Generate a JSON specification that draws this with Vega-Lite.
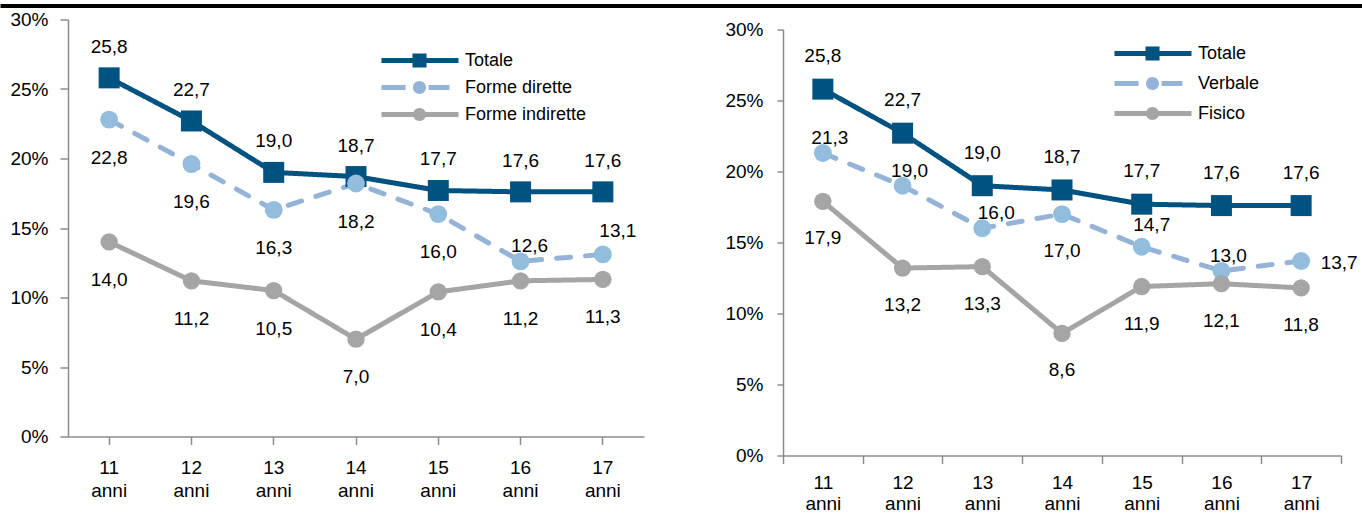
{
  "$schema": "https://vega.github.io/schema/vega-lite/v6.json",
  "padding": {"left": 0, "top": 3.5, "right": 0, "bottom": 0},
  "datasets": {
    "left": [
      {"serie": "Totale", "eta": "11", "valore": 25.8},
      {"serie": "Totale", "eta": "12", "valore": 22.7},
      {"serie": "Totale", "eta": "13", "valore": 19.0},
      {"serie": "Totale", "eta": "14", "valore": 18.7},
      {"serie": "Totale", "eta": "15", "valore": 17.7},
      {"serie": "Totale", "eta": "16", "valore": 17.6},
      {"serie": "Totale", "eta": "17", "valore": 17.6},
      {"serie": "Forme dirette", "eta": "11", "valore": 22.8},
      {"serie": "Forme dirette", "eta": "12", "valore": 19.6},
      {"serie": "Forme dirette", "eta": "13", "valore": 16.3},
      {"serie": "Forme dirette", "eta": "14", "valore": 18.2},
      {"serie": "Forme dirette", "eta": "15", "valore": 16.0},
      {"serie": "Forme dirette", "eta": "16", "valore": 12.6},
      {"serie": "Forme dirette", "eta": "17", "valore": 13.1},
      {"serie": "Forme indirette", "eta": "11", "valore": 14.0},
      {"serie": "Forme indirette", "eta": "12", "valore": 11.2},
      {"serie": "Forme indirette", "eta": "13", "valore": 10.5},
      {"serie": "Forme indirette", "eta": "14", "valore": 7.0},
      {"serie": "Forme indirette", "eta": "15", "valore": 10.4},
      {"serie": "Forme indirette", "eta": "16", "valore": 11.2},
      {"serie": "Forme indirette", "eta": "17", "valore": 11.3}
    ],
    "right": [
      {"serie": "Totale", "eta": "11", "valore": 25.8},
      {"serie": "Totale", "eta": "12", "valore": 22.7},
      {"serie": "Totale", "eta": "13", "valore": 19.0},
      {"serie": "Totale", "eta": "14", "valore": 18.7},
      {"serie": "Totale", "eta": "15", "valore": 17.7},
      {"serie": "Totale", "eta": "16", "valore": 17.6},
      {"serie": "Totale", "eta": "17", "valore": 17.6},
      {"serie": "Verbale", "eta": "11", "valore": 21.3},
      {"serie": "Verbale", "eta": "12", "valore": 19.0},
      {"serie": "Verbale", "eta": "13", "valore": 16.0},
      {"serie": "Verbale", "eta": "14", "valore": 17.0},
      {"serie": "Verbale", "eta": "15", "valore": 14.7},
      {"serie": "Verbale", "eta": "16", "valore": 13.0},
      {"serie": "Verbale", "eta": "17", "valore": 13.7},
      {"serie": "Fisico", "eta": "11", "valore": 17.9},
      {"serie": "Fisico", "eta": "12", "valore": 13.2},
      {"serie": "Fisico", "eta": "13", "valore": 13.3},
      {"serie": "Fisico", "eta": "14", "valore": 8.6},
      {"serie": "Fisico", "eta": "15", "valore": 11.9},
      {"serie": "Fisico", "eta": "16", "valore": 12.1},
      {"serie": "Fisico", "eta": "17", "valore": 11.8}
    ]
  },
  "concat": [
    {
      "width": 1362,
      "height": 1,
      "data": {"values": []},
      "mark": {"type": "text"},
      "encoding": {},
      "view": {"stroke": "#000000", "strokeWidth": 3}
    },
    {
      "concat": [
        {
          "width": 1,
          "height": 1,
          "data": {"values": []},
          "mark": {"type": "text"},
          "encoding": {}
        },
        {
          "concat": [
            {
              "width": 576,
              "height": 417,
              "data": {"name": "left"},
              "encoding": {
                "x": {"field": "eta", "type": "nominal", "title": null,
                  "scale": {"type": "band", "paddingInner": 0, "paddingOuter": 0},
                  "axis": {"labelAngle": 0, "labelExpr": "datum.label ? [datum.label, 'anni'] : ''", "tickSize": 8, "labelPadding": 14, "labelLineHeight": 23, "tickBand": "center"}},
                "y": {"field": "valore", "type": "quantitative", "title": null,
                  "scale": {"domain": [0, 30], "nice": false},
                  "axis": {"values": [0, 5, 10, 15, 20, 25, 30], "labelExpr": "datum.value + '%'", "tickSize": 8, "labelPadding": 12, "minExtent": 65, "maxExtent": 65}}
              },
              "layer": [
                {
                  "mark": {"type": "line", "strokeWidth": 5, "strokeCap": "round", "strokeJoin": "round"},
                  "encoding": {
                    "color": {"field": "serie", "type": "nominal",
                      "scale": {"domain": ["Totale", "Forme dirette", "Forme indirette"], "range": ["#005280", "#95b3d7", "#a5a5a5"]},
                      "legend": {"title": null, "orient": "none", "legendX": 375, "legendY": 32, "symbolSize": 169, "symbolStrokeWidth": 0, "labelOffset": 4, "rowPadding": 9,
                        "encode": {"symbols": {"update": {"fill": {"signal": "datum.value === 'Totale' ? '#005280' : datum.value === 'Forme dirette' ? '#93b9da' : '#a5a5a5'"}, "fillOpacity": {"value": 1}, "strokeWidth": {"value": 0}}}}}},
                    "strokeDash": {"field": "serie", "type": "nominal",
                      "scale": {"domain": ["Totale", "Forme dirette", "Forme indirette"], "range": [[1, 0], [14, 15], [1, 0]]},
                      "legend": null}
                  }
                },
                {
                  "transform": [{"filter": "false"}],
                  "mark": {"type": "point", "filled": true, "size": 169, "opacity": 1},
                  "encoding": {
                    "color": {"field": "serie", "type": "nominal"},
                    "shape": {"field": "serie", "type": "nominal",
                      "scale": {"domain": ["Totale", "Forme dirette", "Forme indirette"], "range": [
                        "M-10.85,-0.38H1V0.38H-10.85Z M-6.08,-1.08H-3.92V1.08H-6.08Z",
                        "M-10.85,-0.38H-7.15V0.38H-10.85Z M-3.6,-0.38H-0.4V0.38H-3.6Z M-4,0A1,1 0 1,1 -6,0A1,1 0 1,1 -4,0Z",
                        "M-10.85,-0.38H1V0.38H-10.85Z M-4,0A1,1 0 1,1 -6,0A1,1 0 1,1 -4,0Z"]},
                      "legend": {"title": null, "orient": "none", "legendX": 375, "legendY": 32, "symbolSize": 169, "symbolStrokeWidth": 0, "labelOffset": 4, "rowPadding": 9,
                        "encode": {"symbols": {"update": {"fill": {"signal": "datum.value === 'Totale' ? '#005280' : datum.value === 'Forme dirette' ? '#93b9da' : '#a5a5a5'"}, "fillOpacity": {"value": 1}, "strokeWidth": {"value": 0}}}}}}
                  }
                },
                {
                  "transform": [{"filter": "datum.serie === 'Totale'"}],
                  "mark": {"type": "point", "filled": true, "opacity": 1, "shape": "square", "size": 441, "color": "#005280"}
                },
                {
                  "transform": [{"filter": "datum.serie === 'Forme dirette'"}],
                  "mark": {"type": "point", "filled": true, "opacity": 1, "shape": "circle", "size": 320, "color": "#92bddd"}
                },
                {
                  "transform": [{"filter": "datum.serie === 'Forme indirette'"}],
                  "mark": {"type": "point", "filled": true, "opacity": 1, "shape": "circle", "size": 300, "color": "#a5a5a5"}
                },
                {
                  "transform": [{"filter": "datum.serie === 'Totale'"}],
                  "mark": {"type": "text", "fontSize": 19, "dy": -31, "color": "#000000"},
                  "encoding": {"text": {"field": "valore", "type": "quantitative", "format": ".1f"}}
                },
                {
                  "transform": [{"filter": "datum.serie !== 'Totale' && !(datum.serie === 'Forme dirette' && (datum.eta === '16' || datum.eta === '17'))"}],
                  "mark": {"type": "text", "fontSize": 19, "dy": 38, "color": "#000000"},
                  "encoding": {"text": {"field": "valore", "type": "quantitative", "format": ".1f"}}
                },
                {
                  "transform": [{"filter": "datum.serie === 'Forme dirette' && datum.eta === '16'"}],
                  "mark": {"type": "text", "fontSize": 19, "dx": 9, "dy": -15, "color": "#000000"},
                  "encoding": {"text": {"field": "valore", "type": "quantitative", "format": ".1f"}}
                },
                {
                  "transform": [{"filter": "datum.serie === 'Forme dirette' && datum.eta === '17'"}],
                  "mark": {"type": "text", "fontSize": 19, "dx": 15, "dy": -23, "color": "#000000"},
                  "encoding": {"text": {"field": "valore", "type": "quantitative", "format": ".1f"}}
                }
              ]
            },
            {
              "concat": [
                {
                  "width": 1,
                  "height": 1,
                  "data": {"values": []},
                  "mark": {"type": "text"},
                  "encoding": {}
                },
                {
                  "width": 558,
                  "height": 426,
                  "data": {"name": "right"},
                  "encoding": {
                    "x": {"field": "eta", "type": "nominal", "title": null,
                      "scale": {"type": "band", "paddingInner": 0, "paddingOuter": 0},
                      "axis": {"labelAngle": 0, "labelExpr": "datum.label ? [datum.label, 'anni'] : ''", "tickSize": 8, "labelPadding": 10, "labelLineHeight": 21, "tickBand": "extent"}},
                    "y": {"field": "valore", "type": "quantitative", "title": null,
                      "scale": {"domain": [0, 30], "nice": false},
                      "axis": {"values": [0, 5, 10, 15, 20, 25, 30], "labelExpr": "datum.value + '%'", "tickSize": 6, "labelPadding": 14, "minExtent": 56, "maxExtent": 56}}
                  },
                  "layer": [
                    {
                      "mark": {"type": "line", "strokeWidth": 5, "strokeCap": "round", "strokeJoin": "round"},
                      "encoding": {
                        "color": {"field": "serie", "type": "nominal",
                          "scale": {"domain": ["Totale", "Verbale", "Fisico"], "range": ["#005280", "#95b3d7", "#a5a5a5"]},
                          "legend": {"title": null, "orient": "none", "legendX": 393, "legendY": 25, "symbolSize": 169, "symbolStrokeWidth": 0, "labelOffset": 4, "rowPadding": 12,
                            "encode": {"symbols": {"update": {"fill": {"signal": "datum.value === 'Totale' ? '#005280' : datum.value === 'Verbale' ? '#93b9da' : '#a5a5a5'"}, "fillOpacity": {"value": 1}, "strokeWidth": {"value": 0}}}}}},
                        "strokeDash": {"field": "serie", "type": "nominal",
                          "scale": {"domain": ["Totale", "Verbale", "Fisico"], "range": [[1, 0], [14, 15], [1, 0]]},
                          "legend": null}
                      }
                    },
                    {
                      "transform": [{"filter": "false"}],
                      "mark": {"type": "point", "filled": true, "size": 169, "opacity": 1},
                      "encoding": {
                        "color": {"field": "serie", "type": "nominal"},
                        "shape": {"field": "serie", "type": "nominal",
                          "scale": {"domain": ["Totale", "Verbale", "Fisico"], "range": [
                            "M-10.85,-0.38H1V0.38H-10.85Z M-6.08,-1.08H-3.92V1.08H-6.08Z",
                            "M-10.85,-0.38H-7.15V0.38H-10.85Z M-3.6,-0.38H-0.4V0.38H-3.6Z M-4,0A1,1 0 1,1 -6,0A1,1 0 1,1 -4,0Z",
                            "M-10.85,-0.38H1V0.38H-10.85Z M-4,0A1,1 0 1,1 -6,0A1,1 0 1,1 -4,0Z"]},
                          "legend": {"title": null, "orient": "none", "legendX": 393, "legendY": 25, "symbolSize": 169, "symbolStrokeWidth": 0, "labelOffset": 4, "rowPadding": 12,
                            "encode": {"symbols": {"update": {"fill": {"signal": "datum.value === 'Totale' ? '#005280' : datum.value === 'Verbale' ? '#93b9da' : '#a5a5a5'"}, "fillOpacity": {"value": 1}, "strokeWidth": {"value": 0}}}}}}
                      }
                    },
                    {
                      "transform": [{"filter": "datum.serie === 'Totale'"}],
                      "mark": {"type": "point", "filled": true, "opacity": 1, "shape": "square", "size": 441, "color": "#005280"}
                    },
                    {
                      "transform": [{"filter": "datum.serie === 'Verbale'"}],
                      "mark": {"type": "point", "filled": true, "opacity": 1, "shape": "circle", "size": 320, "color": "#92bddd"}
                    },
                    {
                      "transform": [{"filter": "datum.serie === 'Fisico'"}],
                      "mark": {"type": "point", "filled": true, "opacity": 1, "shape": "circle", "size": 300, "color": "#a5a5a5"}
                    },
                    {
                      "transform": [{"filter": "datum.serie === 'Totale'"}],
                      "mark": {"type": "text", "fontSize": 19, "dy": -33, "color": "#000000"},
                      "encoding": {"text": {"field": "valore", "type": "quantitative", "format": ".1f"}}
                    },
                    {
                      "transform": [{"filter": "datum.serie === 'Fisico' || (datum.serie === 'Verbale' && datum.eta === '14')"}],
                      "mark": {"type": "text", "fontSize": 19, "dy": 37, "color": "#000000"},
                      "encoding": {"text": {"field": "valore", "type": "quantitative", "format": ".1f"}}
                    },
                    {
                      "transform": [{"filter": "datum.serie === 'Verbale' && (datum.eta === '11' || datum.eta === '12' || datum.eta === '16')"}],
                      "mark": {"type": "text", "fontSize": 19, "dx": 7, "dy": -15, "color": "#000000"},
                      "encoding": {"text": {"field": "valore", "type": "quantitative", "format": ".1f"}}
                    },
                    {
                      "transform": [{"filter": "datum.serie === 'Verbale' && datum.eta === '13'"}],
                      "mark": {"type": "text", "fontSize": 19, "dx": 14, "dy": -15, "color": "#000000"},
                      "encoding": {"text": {"field": "valore", "type": "quantitative", "format": ".1f"}}
                    },
                    {
                      "transform": [{"filter": "datum.serie === 'Verbale' && datum.eta === '15'"}],
                      "mark": {"type": "text", "fontSize": 19, "dx": 10, "dy": -22, "color": "#000000"},
                      "encoding": {"text": {"field": "valore", "type": "quantitative", "format": ".1f"}}
                    },
                    {
                      "transform": [{"filter": "datum.serie === 'Verbale' && datum.eta === '17'"}],
                      "mark": {"type": "text", "fontSize": 19, "dx": 38, "dy": 2, "color": "#000000"},
                      "encoding": {"text": {"field": "valore", "type": "quantitative", "format": ".1f"}}
                    }
                  ]
                }
              ],
              "columns": 1,
              "align": "none",
              "spacing": 0
            }
          ],
          "columns": 2,
          "align": "none",
          "spacing": 80,
          "resolve": {
            "scale": {"color": "independent", "shape": "independent", "strokeDash": "independent"},
            "legend": {"color": "independent", "shape": "independent"}
          }
        }
      ],
      "columns": 2,
      "align": "none",
      "spacing": 0
    }
  ],
  "columns": 1,
  "align": "none",
  "spacing": 2,
  "config": {
    "locale": {"number": {"decimal": ",", "thousands": ".", "grouping": [3], "currency": ["€", ""]}},
    "font": "Liberation Sans, Arial, sans-serif",
    "view": {"stroke": null},
    "text": {"font": "Liberation Sans, Arial, sans-serif"},
    "axis": {
      "grid": false,
      "domainColor": "#8c8c8c", "tickColor": "#8c8c8c", "domainWidth": 1.5, "tickWidth": 1.5,
      "labelFont": "Liberation Sans, Arial, sans-serif",
      "labelFontSize": 19, "labelColor": "#000000"
    },
    "legend": {
      "labelFont": "Liberation Sans, Arial, sans-serif",
      "labelFontSize": 18, "labelColor": "#000000", "padding": 0
    },
    "title": {"font": "Liberation Sans, Arial, sans-serif"}
  }
}
